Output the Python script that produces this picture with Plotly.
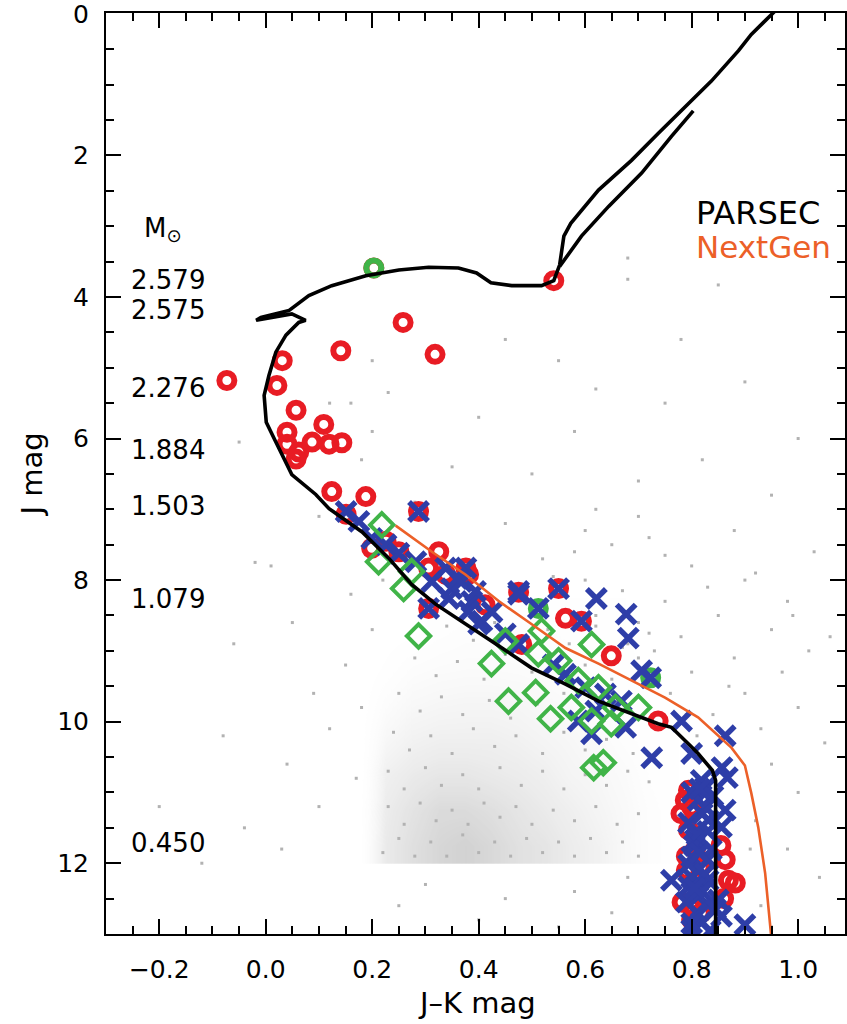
import plotly.graph_objects as go

# ---------------- data (J-K colour, J magnitude) ----------------
parsec_jk = [0.845, 0.845, 0.839, 0.826, 0.812, 0.799, 0.781, 0.762, 0.737, 0.687, 0.625, 0.563,
             0.499, 0.438, 0.368, 0.319, 0.274, 0.231, 0.181, 0.119, 0.094, 0.049, 0.019, 0.001,
             -0.003, 0.006, 0.019, 0.038, 0.062, 0.075, 0.049, -0.018, -0.009, 0.044, 0.081, 0.124,
             0.188, 0.250, 0.306, 0.362, 0.396, 0.423, 0.462, 0.518, 0.541, 0.552, 0.560, 0.573,
             0.625, 0.687, 0.737, 0.775, 0.837, 0.888, 0.912, 0.958,
             None, 0.552, 0.593, 0.644, 0.706, 0.762, 0.803]
parsec_j = [13.0, 10.83, 10.69, 10.57, 10.45, 10.35, 10.22, 10.08, 10.03, 9.89, 9.71, 9.47,
            9.24, 8.93, 8.58, 8.34, 8.06, 7.69, 7.32, 6.99, 6.79, 6.51, 6.05, 5.77,
            5.39, 5.11, 4.78, 4.54, 4.36, 4.33, 4.24, 4.33, 4.29, 4.19, 3.98, 3.84,
            3.70, 3.62, 3.58, 3.59, 3.66, 3.80, 3.84, 3.84, 3.77, 3.55, 3.14, 2.96,
            2.49, 2.07, 1.69, 1.41, 0.95, 0.52, 0.29, -0.05,
            None, 3.57, 3.14, 2.72, 2.25, 1.73, 1.37]

nextgen_jk = [0.244, 0.312, 0.375, 0.438, 0.499, 0.563, 0.625, 0.687, 0.750, 0.812, 0.875,
              0.900, 0.912, 0.925, 0.938, 0.949]
nextgen_j = [7.23, 7.60, 7.92, 8.30, 8.62, 8.96, 9.18, 9.42, 9.66, 9.94, 10.37,
             10.62, 11.01, 11.49, 12.14, 13.0]

red_jk = [-0.073, 0.031, 0.021, 0.057, 0.040, 0.040, 0.062, 0.087, 0.109, 0.119, 0.143, 0.057,
          0.141, 0.258, 0.318, 0.203, 0.541, 0.124, 0.188, 0.287, 0.151, 0.250, 0.325, 0.306,
          0.376, 0.381, 0.475, 0.338, 0.199, 0.306, 0.550, 0.563, 0.593, 0.649, 0.737, 0.481,
          0.794, 0.800, 0.807, 0.818, 0.882, 0.800, 0.818, 0.863, 0.869, 0.794, 0.788,
          0.780, 0.790, 0.782, 0.800, 0.860, 0.855, 0.790, 0.226, 0.412]
red_j = [5.18, 4.90, 5.25, 5.60, 5.91, 6.08, 6.19, 6.05, 5.80, 6.08, 6.06, 6.29,
         4.76, 4.36, 4.81, 3.59, 3.77, 6.75, 6.82, 7.03, 7.07, 7.60, 7.60, 8.40,
         7.83, 7.92, 8.17, 7.92, 7.55, 7.83, 8.12, 8.54, 8.58, 9.07, 9.99, 8.91,
         10.97, 11.21, 11.81, 12.05, 12.28, 12.62, 12.70, 11.95, 12.24, 11.53, 11.11,
         11.30, 11.90, 12.55, 12.80, 12.50, 11.75, 12.10, 7.45, 8.35]

blue_jk = [0.287, 0.151, 0.175, 0.199, 0.226, 0.282, 0.312, 0.349, 0.387, 0.406, 0.450, 0.475,
           0.344, 0.381, 0.400, 0.338, 0.368, 0.394, 0.475, 0.550, 0.621, 0.593, 0.677, 0.681,
           0.512, 0.706, 0.723, 0.563, 0.601, 0.638, 0.668, 0.587, 0.612, 0.676, 0.781, 0.863,
           0.725, 0.800, 0.857, 0.867, 0.306, 0.376, 0.475, 0.250, 0.360, 0.425, 0.540, 0.620,
           0.826, 0.812, 0.863, 0.856, 0.826, 0.794, 0.807, 0.800, 0.762, 0.794, 0.812, 0.818,
           0.900, 0.856, 0.831, 0.812, 0.837, 0.831, 0.800, 0.850, 0.818, 0.794, 0.831,
           0.800, 0.820, 0.810, 0.830, 0.800, 0.820, 0.810, 0.835, 0.805, 0.825, 0.790, 0.840,
           0.815, 0.845, 0.800, 0.815, 0.830, 0.805]
blue_j = [7.03, 7.03, 7.17, 7.41, 7.50, 7.74, 8.02, 8.12, 8.30, 8.58, 8.76, 8.91,
          8.26, 8.44, 8.62, 7.83, 8.02, 8.16, 8.16, 8.12, 8.26, 8.58, 8.48, 8.82,
          8.40, 9.28, 9.38, 9.33, 9.52, 9.61, 9.71, 9.99, 10.17, 10.08, 9.99, 10.20,
          10.51, 10.45, 10.65, 10.79, 8.40, 7.83, 8.20, 7.62, 7.98, 8.45, 9.20, 9.85,
          10.93, 11.11, 11.25, 11.49, 11.21, 11.43, 11.67, 11.91, 12.24, 12.33, 12.47, 12.84,
          12.87, 12.75, 11.39, 12.10, 11.81, 12.24, 12.94, 12.52, 10.83, 12.02, 12.59,
          11.00, 11.30, 11.60, 11.95, 12.20, 12.40, 12.70, 12.95, 11.75, 12.15, 12.55, 11.05,
          10.95, 12.65, 12.85, 11.85, 11.55, 12.35]

green_jk = [0.218, 0.212, 0.274, 0.259, 0.287, 0.424, 0.450, 0.512, 0.456, 0.507, 0.535, 0.518,
            0.550, 0.587, 0.625, 0.574, 0.612, 0.657, 0.700, 0.649, 0.634, 0.616, 0.612]
green_j = [7.22, 7.74, 7.88, 8.12, 8.79, 9.18, 8.86, 9.04, 9.71, 9.59, 9.96, 8.72,
           9.14, 9.42, 9.52, 9.80, 9.99, 9.80, 9.80, 10.03, 10.58, 10.65, 8.91]

gcirc_jk = [0.203, 0.512, 0.723]
gcirc_j = [3.59, 8.40, 9.38]

# sparse field stars (read by eye)
field_jk = [0.68, 0.68, 0.85, 0.45, 0.55, 0.62, 0.75, 0.90, 1.00, 0.82, 0.58, 0.40, 0.20, 0.23,
            0.12, 0.16, 0.20, 0.18, -0.05, 0.70, 0.95, 0.50, 0.35, 0.62, 0.88, 1.03, 0.28, 0.45,
            0.78, 0.58, 0.65, 0.72, 0.80, 0.90, 0.98, 0.60, 0.67, 0.75, 0.85, 0.95, 1.02, 0.70,
            0.78, 0.88, 0.97, 0.73, 0.80, 0.90, 1.00, 0.76, 0.84, 0.93, 1.05, 0.95, 1.00, 0.92,
            0.98, 1.04, 0.93, 0.60, 0.70, 0.52, 0.62, 0.83, 0.68, 0.87, 0.99, 0.81, 0.88, 0.91,
            0.95, 0.54, 0.75, 0.92, 1.06, 0.79, 0.86, -0.02, 0.01, 0.05, -0.06, 0.15, 0.09, -0.08,
            0.12, 0.04, -0.20, -0.04, 0.10, 0.17, -0.12, 0.03, 0.18, 0.20, 0.16, 0.10, 0.22, 0.30,
            0.45, 0.58, 0.68, 0.40, 0.55, 0.25, 0.65]
field_j = [3.45, 3.75, 3.83, 4.60, 4.90, 5.30, 5.50, 5.20, 6.00, 6.30, 5.90, 5.70, 4.90, 5.35,
           5.50, 5.50, 5.90, 6.30, 6.05, 6.60, 6.80, 6.50, 6.40, 7.00, 7.30, 7.60, 6.90, 7.20,
           4.60, 7.60, 7.50, 7.40, 7.80, 8.00, 8.30, 8.00, 8.15, 8.30, 8.50, 8.70, 9.00, 8.60,
           8.80, 9.10, 9.30, 9.00, 9.30, 9.60, 9.80, 9.60, 9.90, 10.10, 10.30, 10.60, 11.00, 11.40,
           11.80, 12.20, 12.60, 7.30, 7.10, 7.70, 8.50, 8.10, 8.90, 9.50, 8.50, 10.20, 10.90, 11.80,
           12.90, 7.95, 7.65, 7.90, 8.80, 9.90, 10.60, 7.75, 7.80, 8.60, 8.90, 9.20, 9.60, 10.20,
           10.10, 10.60, 11.20, 11.50, 11.20, 10.80, 12.00, 11.80, 9.80, 8.70, 8.20, 7.10, 8.00, 12.30,
           12.50, 12.40, 12.20, 12.80, 12.90, 12.60, 12.70]

# field stars inside the dense cloud (read by eye)
cloud_dot_jk = [0.34, 0.39, 0.43, 0.48, 0.53, 0.57, 0.62, 0.67, 0.72,
                0.28, 0.32, 0.36, 0.41, 0.45, 0.50, 0.55, 0.60, 0.65, 0.70,
                0.25, 0.29, 0.33, 0.37, 0.42, 0.46, 0.51, 0.56, 0.60, 0.66, 0.71,
                0.24, 0.27, 0.31, 0.35, 0.39, 0.43, 0.47, 0.52, 0.56, 0.60, 0.64, 0.69,
                0.23, 0.26, 0.30, 0.33, 0.37, 0.40, 0.44, 0.48, 0.52, 0.56, 0.60, 0.64, 0.68, 0.72,
                0.23, 0.26, 0.29, 0.32, 0.35, 0.38, 0.41, 0.44, 0.47, 0.50, 0.54, 0.58, 0.62, 0.66, 0.70,
                0.22, 0.25, 0.28, 0.31, 0.34, 0.37, 0.40, 0.43, 0.46, 0.49, 0.52, 0.55, 0.58, 0.61, 0.64, 0.67, 0.70]
cloud_dot_j = [8.65, 8.85, 8.60, 8.95, 8.70, 8.90, 8.65, 8.95, 8.75,
               9.10, 9.35, 9.15, 9.40, 9.05, 9.30, 9.45, 9.20, 9.40, 9.10,
               9.60, 9.85, 9.65, 9.90, 9.70, 9.95, 9.75, 9.60, 9.90, 9.70, 9.95,
               10.15, 10.40, 10.20, 10.45, 10.10, 10.35, 10.20, 10.45, 10.15, 10.40, 10.25, 10.45,
               10.70, 10.95, 10.65, 10.90, 10.75, 10.95, 10.65, 10.90, 10.70, 10.95, 10.75, 10.90, 10.70, 10.85,
               11.20, 11.45, 11.15, 11.40, 11.25, 11.45, 11.15, 11.35, 11.20, 11.45, 11.25, 11.40, 11.20, 11.45, 11.30,
               11.85, 11.65, 11.90, 11.70, 11.90, 11.60, 11.85, 11.70, 11.90, 11.65, 11.85, 11.70, 11.90, 11.65, 11.85, 11.70, 11.90]

# relative density of the dense field-star cloud (read by eye)
cloud_jk = [0.175, 0.225, 0.275, 0.325, 0.375, 0.425, 0.475, 0.525, 0.575, 0.625, 0.675, 0.725, 0.775, 0.825]
cloud_j = [7.75, 8.25, 8.75, 9.25, 9.75, 10.25, 10.75, 11.25, 11.75]
cloud_z = [
    [0.02, 0.03, 0.04, 0.05, 0.05, 0.06, 0.06, 0.07, 0.08, 0.08, 0.08, 0.07, 0.06, 0.05],
    [0.02, 0.03, 0.05, 0.08, 0.08, 0.09, 0.10, 0.10, 0.10, 0.10, 0.10, 0.09, 0.07, 0.05],
    [0.02, 0.05, 0.08, 0.15, 0.20, 0.20, 0.20, 0.18, 0.15, 0.12, 0.10, 0.08, 0.06, 0.05],
    [0.02, 0.12, 0.24, 0.28, 0.30, 0.30, 0.28, 0.25, 0.20, 0.15, 0.12, 0.08, 0.06, 0.05],
    [0.02, 0.25, 0.38, 0.42, 0.44, 0.44, 0.42, 0.36, 0.30, 0.22, 0.15, 0.10, 0.08, 0.05],
    [0.02, 0.40, 0.52, 0.56, 0.56, 0.56, 0.52, 0.46, 0.40, 0.32, 0.20, 0.12, 0.10, 0.06],
    [0.02, 0.55, 0.65, 0.70, 0.70, 0.66, 0.62, 0.56, 0.46, 0.40, 0.30, 0.15, 0.10, 0.06],
    [0.02, 0.62, 0.75, 0.85, 0.85, 0.80, 0.72, 0.64, 0.56, 0.46, 0.35, 0.20, 0.10, 0.06],
    [0.02, 0.65, 0.80, 0.90, 0.95, 0.88, 0.78, 0.72, 0.62, 0.52, 0.36, 0.20, 0.10, 0.06],
]

mass_labels = ["2.579", "2.575", "2.276", "1.884", "1.503", "1.079", "0.450"]
mass_label_j = [3.76, 4.19, 5.28, 6.16, 6.96, 8.26, 11.72]

x_ticks = [-0.2, 0.0, 0.2, 0.4, 0.6, 0.8, 1.0]
y_ticks = [0, 2, 4, 6, 8, 10, 12]

FONT = "DejaVu Sans"
RED = "rgb(232,28,36)"
BLUE = "rgb(46,62,168)"
GREEN = "rgb(64,180,72)"
ORANGE = "rgb(236,96,40)"
GRAY = "rgb(178,178,178)"

fig = go.Figure()

fig.add_trace(go.Heatmap(x=cloud_jk, y=cloud_j, z=cloud_z, zmin=0, zmax=1, zsmooth="best",
                         colorscale=[[0, "rgba(255,255,255,0)"], [1, "rgb(205,205,205)"]],
                         showscale=False, hoverinfo="skip"))

fig.add_trace(go.Scatter(x=field_jk, y=field_j, mode="markers",
                         marker=dict(symbol="square", size=3, color=GRAY),
                         hoverinfo="skip"))
fig.add_trace(go.Scatter(x=cloud_dot_jk, y=cloud_dot_j, mode="markers",
                         marker=dict(symbol="square", size=3, color=GRAY),
                         hoverinfo="skip"))

fig.add_trace(go.Scatter(x=red_jk, y=red_j, mode="markers",
                         marker=dict(symbol="circle-open", size=15, color=RED,
                                     line=dict(width=6, color=RED))))
fig.add_trace(go.Scatter(x=gcirc_jk, y=gcirc_j, mode="markers",
                         marker=dict(symbol="circle-open", size=15, color=GREEN,
                                     line=dict(width=6, color=GREEN))))
fig.add_trace(go.Scatter(x=blue_jk, y=blue_j, mode="markers",
                         marker=dict(symbol="x-thin-open", size=19, color=BLUE,
                                     line=dict(width=5.5, color=BLUE))))
fig.add_trace(go.Scatter(x=green_jk, y=green_j, mode="markers",
                         marker=dict(symbol="diamond-open", size=18, color=GREEN,
                                     line=dict(width=4, color=GREEN))))

fig.add_trace(go.Scatter(x=nextgen_jk, y=nextgen_j, mode="lines",
                         line=dict(color=ORANGE, width=2.6)))
fig.add_trace(go.Scatter(x=parsec_jk, y=parsec_j, mode="lines", connectgaps=False,
                         line=dict(color="black", width=3.6)))

for lab, jv in zip(mass_labels, mass_label_j):
    fig.add_annotation(x=-0.256, y=jv, text=lab, showarrow=False, xanchor="left",
                       yanchor="middle", font=dict(family=FONT, size=26, color="black"))
fig.add_annotation(x=-0.232, y=3.05, text="M<sub>⊙</sub>", showarrow=False, xanchor="left",
                   yanchor="middle", font=dict(family=FONT, size=26, color="black"))

fig.add_annotation(xref="paper", yref="paper", x=0.795, y=0.7825, text="PARSEC",
                   showarrow=False, xanchor="left", yanchor="middle",
                   font=dict(family=FONT, size=32, color="black"))
fig.add_annotation(xref="paper", yref="paper", x=0.795, y=0.7457, text="NextGen",
                   showarrow=False, xanchor="left", yanchor="middle",
                   font=dict(family=FONT, size=31, color=ORANGE))

fig.add_annotation(xref="paper", yref="paper", x=0.502, y=-0.0747, text="J–K mag",
                   showarrow=False, xanchor="center", yanchor="middle",
                   font=dict(family=FONT, size=29, color="black"))
fig.add_annotation(xref="paper", yref="paper", x=-0.0999, y=0.499, text="J mag",
                   textangle=-90, showarrow=False, xanchor="center", yanchor="middle",
                   font=dict(family=FONT, size=29, color="black"))

axis_common = dict(showgrid=False, zeroline=False, showline=True, linecolor="black", linewidth=2,
                   mirror="ticks", ticks="inside", ticklen=15, tickwidth=2, tickcolor="black",
                   tickfont=dict(family=FONT, size=25, color="black"))

fig.update_xaxes(range=[-0.3, 1.088], tickvals=x_ticks, tickformat=".1f",
                 minor=dict(ticks="inside", ticklen=8, tickwidth=2, tickcolor="black", dtick=0.05,
                            tick0=0, showgrid=False),
                 ticklabelstandoff=12, **axis_common)
fig.update_yaxes(range=[13, -0.012], tickvals=y_ticks, ticklabeloverflow="allow",
                 minor=dict(ticks="inside", ticklen=8, tickwidth=2, tickcolor="black", dtick=0.5,
                            tick0=0, showgrid=False),
                 ticklabelstandoff=10, **axis_common)

fig.update_layout(width=847, height=1024, margin=dict(l=106, r=0, t=10, b=90),
                  plot_bgcolor="white", paper_bgcolor="white", showlegend=False,
                  font=dict(family=FONT))

fig.write_html("out.html", config={"displayModeBar": False},
               post_script="document.body.style.margin='0';document.body.style.padding='0';")
